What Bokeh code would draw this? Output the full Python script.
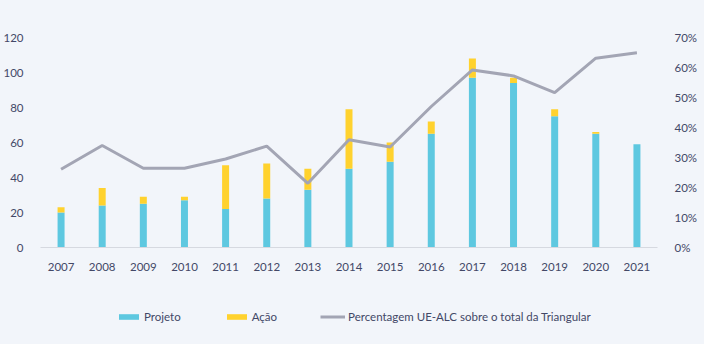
from bokeh.plotting import figure
from bokeh.layouts import column
from bokeh.models import (ColumnDataSource, LinearAxis, Range1d, NumeralTickFormatter,
                          Legend, LegendItem, FixedTicker)
from bokeh.embed import file_html
from bokeh.resources import INLINE

years = [str(y) for y in range(2007, 2022)]
projeto = [20, 24, 25, 27, 22, 28, 33, 45, 49, 65, 97, 94, 75, 65, 59]
acao = [3, 10, 4, 2, 25, 20, 12, 34, 11, 7, 11, 3, 4, 1, 0]
percentagem = [0.261, 0.340, 0.264, 0.264, 0.295, 0.338, 0.214, 0.359, 0.335, 0.470,
               0.592, 0.572, 0.516, 0.631, 0.649]
series_names = ["Projeto", "Ação", "Percentagem UE-ALC sobre o total da Triangular"]
left_ticks = [0, 20, 40, 60, 80, 100, 120]
right_ticks = [0, 0.1, 0.2, 0.3, 0.4, 0.5, 0.6, 0.7]

BG = "#f2f5fa"
TXT = "#434867"
FONT = "Lato"
FS = "11.5px"
BLUE = "#5ec8e0"
YELLOW = "#ffd22e"
GREY = "#a3a5b4"

src = ColumnDataSource(dict(years=years, projeto=projeto, acao=acao, pct=percentagem))

p = figure(x_range=years, y_range=Range1d(0, 120), width=704, height=295,
           output_backend="svg", toolbar_location=None,
           min_border_left=34, min_border_right=47, min_border_top=37, min_border_bottom=48)
p.background_fill_color = BG
p.border_fill_color = BG
p.outline_line_color = None
p.xgrid.grid_line_color = None
p.ygrid.grid_line_color = None

p.extra_y_ranges = {"pct": Range1d(0, 0.7)}

p.vbar_stack(["projeto", "acao"], x="years", width=0.17, source=src,
             color=[BLUE, YELLOW], line_color=None)
p.line(x="years", y="pct", source=src, y_range_name="pct",
       line_color=GREY, line_width=3)

p.yaxis.ticker = FixedTicker(ticks=left_ticks)
for ax in [p.yaxis[0], p.xaxis[0]]:
    ax.major_tick_line_color = None
    ax.minor_tick_line_color = None
    ax.major_label_text_font = FONT
    ax.major_label_text_font_size = FS
    ax.major_label_text_color = TXT
p.yaxis.axis_line_color = None
p.yaxis.major_label_standoff = 11
p.xaxis.axis_line_color = "#d6d9e0"
p.xaxis.major_label_standoff = 9

ax2 = LinearAxis(y_range_name="pct", ticker=FixedTicker(ticks=right_ticks),
                 formatter=NumeralTickFormatter(format="0%"))
ax2.axis_line_color = None
ax2.major_tick_line_color = None
ax2.minor_tick_line_color = None
ax2.major_label_text_font = FONT
ax2.major_label_text_font_size = FS
ax2.major_label_text_color = TXT
ax2.major_label_standoff = 11
p.add_layout(ax2, "right")

# legend strip below the chart: same series, drawn out of view, only the legend shows
lg = figure(width=704, height=49, output_backend="svg", toolbar_location=None,
            min_border=0, x_range=years, y_range=Range1d(1000, 1001),
            x_axis_location=None, y_axis_location=None)
lg.extra_y_ranges = {"pct": Range1d(1000, 1001)}
lg.background_fill_color = BG
lg.border_fill_color = BG
lg.outline_line_color = None
lg.grid.visible = False
gs = lg.vbar_stack(["projeto", "acao"], x="years", width=0.17, source=src,
                   color=[BLUE, YELLOW], line_color=None)
gl = lg.line(x="years", y="pct", source=src, y_range_name="pct",
             line_color=GREY, line_width=3)

legend = Legend(items=[LegendItem(label=series_names[0], renderers=[gs[0]]),
                       LegendItem(label=series_names[1], renderers=[gs[1]]),
                       LegendItem(label=series_names[2], renderers=[gl])],
                orientation="horizontal", location=(76, 21),
                background_fill_alpha=0, border_line_color=None,
                label_text_font=FONT, label_text_font_size=FS, label_text_color=TXT,
                glyph_width=25, glyph_height=7, label_standoff=3, spacing=43,
                padding=0, margin=0)
lg.add_layout(legend, "center")

layout = column(p, lg, spacing=0, styles={"background-color": BG})
open("out.html", "w").write(file_html(layout, INLINE))
